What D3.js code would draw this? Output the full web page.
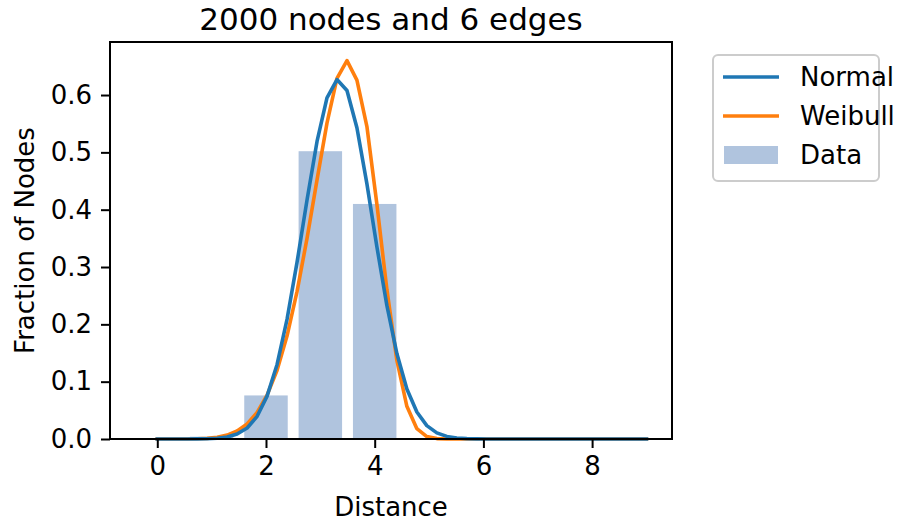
<!DOCTYPE html>
<html><head><meta charset="utf-8">
<script src="https://cdn.jsdelivr.net/npm/d3@7"></script>
<style>body{margin:0;background:#fff;} svg{display:block;font-family:"DejaVu Sans",sans-serif;}</style>
</head><body>
<svg id="c" width="917" height="524"></svg>
<script>
const title = "2000 nodes and 6 edges";
const xLabel = "Distance";
const yLabel = "Fraction of Nodes";
const barCategories = [0, 1, 2, 3, 4];
const barValues = [0.001, 0.004, 0.076, 0.502, 0.41];
const xGrid = [0,0.184,0.367,0.551,0.735,0.918,1.102,1.286,1.469,1.653,1.837,2.020,2.204,2.388,2.571,2.755,2.939,3.122,3.306,3.490,3.673,3.857,4.041,4.224,4.408,4.592,4.776,4.959,5.143,5.327,5.510,5.694,5.878,6.061,6.245,6.429,6.612,6.796,6.980,7.163,7.347,7.531,7.714,7.898,8.082,8.265,8.449,8.633,8.816,9.0];
const normalValues = [0,0,0.00001,0.00004,0.00015,0.00046,0.0013,0.0035,0.0086,0.0192,0.0396,0.0748,0.130,0.209,0.308,0.417,0.519,0.595,0.627,0.608,0.543,0.445,0.335,0.233,0.149,0.0873,0.0470,0.0234,0.0107,0.0045,0.0017,0.0006,0.0002,0.00005,0.00001,0,0,0,0,0,0,0,0,0,0,0,0,0,0,0];
const weibullValues = [0,0,0.00001,0.00007,0.00033,0.0011,0.0030,0.0068,0.0140,0.0264,0.0463,0.0766,0.120,0.180,0.257,0.350,0.452,0.551,0.629,0.660,0.626,0.545,0.409,0.261,0.137,0.057,0.018,0.0042,0.0007,0.0001,0,0,0,0,0,0,0,0,0,0,0,0,0,0,0,0,0,0,0,0];
const xTicks = [0, 2, 4, 6, 8];
const yTicks = [0, 0.1, 0.2, 0.3, 0.4, 0.5, 0.6];
const seriesNames = ["Normal", "Weibull", "Data"];
const colors = {Normal: "#1f77b4", Weibull: "#ff7f0e", Data: "#b0c4de"};

const svg = d3.select("#c");
const L = 110, R = 672, T = 42, B = 439;
const x = d3.scaleLinear().domain([-0.87, 9.47]).range([L, R]);
const y = d3.scaleLinear().domain([0, 0.6925]).range([B, T]);
const barW = 0.8;

// bars
svg.append("g").selectAll("rect").data(barCategories).join("rect")
  .attr("x", (d) => x(d - barW/2))
  .attr("width", (d) => x(d + barW/2) - x(d - barW/2))
  .attr("y", (d, i) => y(barValues[i]))
  .attr("height", (d, i) => Math.max(0.8, y(0) - y(barValues[i])))
  .attr("fill", colors.Data);

// lines (Weibull underneath, Normal on top)
const line = d3.line().x((d) => x(d[0])).y((d) => y(d[1]));
[["Weibull", weibullValues], ["Normal", normalValues]].forEach(([name, vals]) => {
  svg.append("path").datum(xGrid.map((xv, i) => [xv, vals[i]]))
    .attr("d", line).attr("fill", "none").attr("stroke", colors[name])
    .attr("stroke-width", 3.6).attr("stroke-linejoin", "round").attr("stroke-linecap", "square");
});

// axes
const xAxis = svg.append("g").attr("transform", `translate(0,${B})`)
  .call(d3.axisBottom(x).tickValues(xTicks).tickFormat(d3.format("d")).tickSize(9).tickPadding(9));
const yAxis = svg.append("g").attr("transform", `translate(${L},0)`)
  .call(d3.axisLeft(y).tickValues(yTicks).tickFormat(d3.format(".1f")).tickSize(9).tickPadding(9));
[xAxis, yAxis].forEach((g) => {
  g.select(".domain").remove();
  g.selectAll(".tick line").attr("stroke", "#000").attr("stroke-width", 2);
  g.selectAll(".tick text").attr("fill", "#000").style("font-size", "26px").style("font-family", "DejaVu Sans");
});
xAxis.selectAll(".tick text").attr("dy", "0.71em");

// frame
svg.append("rect").attr("x", L).attr("y", T).attr("width", R - L).attr("height", B - T)
  .attr("fill", "none").attr("stroke", "#000").attr("stroke-width", 2);

// labels
svg.append("text").attr("x", (L + R) / 2).attr("y", 30).attr("text-anchor", "middle")
  .style("font-size", "31px").text(title);
svg.append("text").attr("x", (L + R) / 2).attr("y", 516).attr("text-anchor", "middle")
  .style("font-size", "26px").text(xLabel);
svg.append("text").attr("transform", `translate(34,${(T + B) / 2}) rotate(-90)`).attr("text-anchor", "middle")
  .style("font-size", "26px").text(yLabel);

// legend
const lg = svg.append("g");
lg.append("rect").attr("x", 713).attr("y", 55).attr("width", 166).attr("height", 126)
  .attr("rx", 5).attr("fill", "#fff").attr("fill-opacity", 0.8).attr("stroke", "#cccccc").attr("stroke-width", 2);
seriesNames.forEach((name, i) => {
  const cy = 77 + i * 39;
  if (name === "Data") {
    lg.append("rect").attr("x", 724).attr("y", cy - 9).attr("width", 54).attr("height", 18).attr("fill", colors.Data);
  } else {
    lg.append("line").attr("x1", 723).attr("x2", 779).attr("y1", cy).attr("y2", cy)
      .attr("stroke", colors[name]).attr("stroke-width", 3.6);
  }
  lg.append("text").attr("x", 800).attr("y", cy).attr("dy", "0.36em").style("font-size", "26px").text(name);
});
</script>
</body></html>
